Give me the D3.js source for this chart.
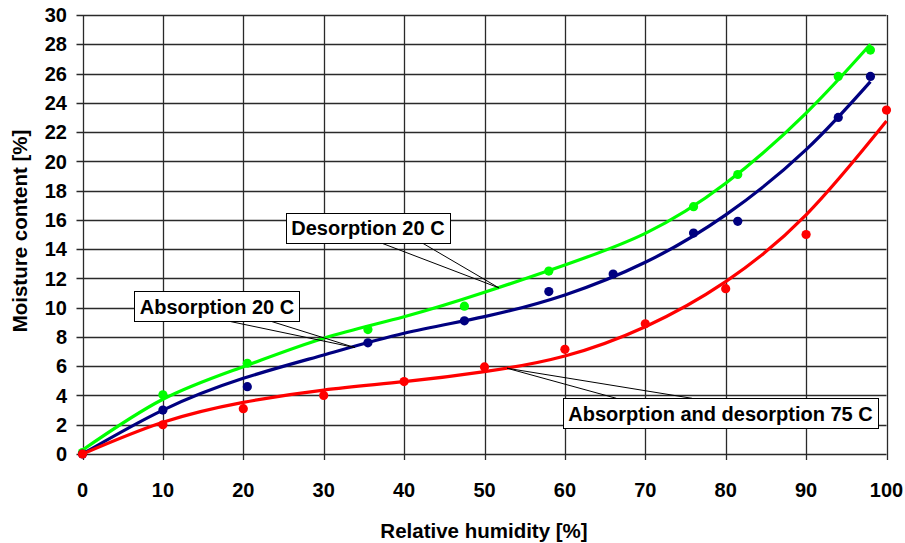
<!DOCTYPE html>
<html>
<head>
<meta charset="utf-8">
<script src="https://cdn.jsdelivr.net/npm/d3@7"></script>
<style>
  body { margin: 0; background: #fff; }
  text { font-family: "Liberation Sans", Arial, sans-serif; font-weight: bold; }
</style>
</head>
<body>
<div id="chart"></div>
<script>
// measured points
var desorp20 = [[0,0.1],[10,4.05],[20.5,6.2],[35.5,8.5],[47.5,10.1],[58,12.5],[76,16.9],[81.5,19.1],[94,25.8],[98,27.6]];
var absorp20 = [[0,0],[10,3.0],[20.5,4.6],[35.5,7.6],[47.5,9.1],[58,11.1],[66,12.3],[76,15.1],[81.5,15.9],[94,23.0],[98,25.8]];
var both75 = [[0,0],[10,2.0],[20,3.1],[30,4.0],[40,4.95],[50,5.95],[60,7.15],[70,8.9],[80,11.3],[90,15.0],[100,23.5]];

// trend lines
var desorp20Fit = [[0,0.27],[10,3.74],[20,5.97],[30,7.91],[40,9.38],[50,11.05],[60,12.92],[70,15.08],[80,18.5],[90,23.3],[98,28.0]];
var absorp20Fit = [[0,0],[10,3.0],[20,5.17],[30,6.77],[40,8.25],[50,9.39],[60,10.87],[70,13.1],[80,16.34],[90,20.8],[98,25.45]];
var both75Fit = [[0,0],[10,2.17],[20,3.53],[30,4.37],[40,4.94],[50,5.63],[60,6.7],[70,8.7],[80,11.78],[90,16.34],[100,22.75]];

var xTicks = [0,10,20,30,40,50,60,70,80,90,100];
var yTicks = [0,2,4,6,8,10,12,14,16,18,20,22,24,26,28,30];

var series = [
  {name: "Desorption 20 C", pts: desorp20, fit: desorp20Fit, color: "#00ff00"},
  {name: "Absorption 20 C", pts: absorp20, fit: absorp20Fit, color: "#000080"},
  {name: "Absorption and desorption 75 C", pts: both75, fit: both75Fit, color: "#ff0000"}
];

// callouts: box centre in data units, leader target on the curve
var callouts = [
  {text: "Desorption 20 C", cx: 35.5, cy: 15.45, tx: 51.8, ty: 11.35, side: "bottom", f1: 0.58, f2: 0.83},
  {text: "Absorption 20 C", cx: 16.73, cy: 10.08, tx: 33.9, ty: 7.27, side: "bottom", f1: 0.58, f2: 0.83},
  {text: "Absorption and desorption 75 C", cx: 79.35, cy: 2.78, tx: 52.8, ty: 5.86, side: "top", f1: 0.17, f2: 0.41}
];

var w = 905, h = 543;

var svg = d3.select("#chart")
    .append("svg")
    .attr("width", w)
    .attr("height", h);

var x = d3.scaleLinear().domain([0, 100]).range([82.5, 886.5]);
var y = d3.scaleLinear().domain([0, 30]).range([454, 15]);

// grid
svg.append("g").selectAll("line")
    .data(yTicks)
    .enter()
    .append("line")
    .attr("x1", x(0) - 6)
    .attr("x2", x(100))
    .attr("y1", function(d) { return Math.round(y(d)) + 0.5; })
    .attr("y2", function(d) { return Math.round(y(d)) + 0.5; })
    .style("stroke", "#2a2a2a")
    .style("stroke-width", 1.3);

svg.append("g").selectAll("line")
    .data(xTicks)
    .enter()
    .append("line")
    .attr("x1", function(d) { return Math.round(x(d)) + 0.5; })
    .attr("x2", function(d) { return Math.round(x(d)) + 0.5; })
    .attr("y1", y(30))
    .attr("y2", y(0) + 6)
    .style("stroke", "#2a2a2a")
    .style("stroke-width", 1.3);

// tick labels
svg.append("g").selectAll("text")
    .data(yTicks)
    .enter()
    .append("text")
    .attr("x", 67)
    .attr("y", function(d) { return y(d); })
    .attr("dy", "0.36em")
    .attr("text-anchor", "end")
    .style("font-size", "20px")
    .text(function(d) { return d; });

svg.append("g").selectAll("text")
    .data(xTicks)
    .enter()
    .append("text")
    .attr("x", function(d) { return x(d); })
    .attr("y", 497)
    .attr("text-anchor", "middle")
    .style("font-size", "20px")
    .text(function(d) { return d; });

// axis titles
svg.append("text")
    .attr("x", 484)
    .attr("y", 538)
    .attr("text-anchor", "middle")
    .style("font-size", "20.5px")
    .text("Relative humidity [%]");

svg.append("text")
    .attr("transform", "translate(27,231) rotate(-90)")
    .attr("text-anchor", "middle")
    .style("font-size", "20.5px")
    .text("Moisture content [%]");

// curves and markers
var line = d3.line()
    .x(function(d) { return x(d[0]); })
    .y(function(d) { return y(d[1]); })
    .curve(d3.curveNatural);

series.forEach(function(s) {
  svg.append("path")
      .datum(s.fit)
      .attr("d", line)
      .style("fill", "none")
      .style("stroke", s.color)
      .style("stroke-width", 3.2);

  svg.append("g").selectAll("circle")
      .data(s.pts)
      .enter()
      .append("circle")
      .attr("cx", function(d) { return x(d[0]); })
      .attr("cy", function(d) { return y(d[1]); })
      .attr("r", 4.6)
      .style("fill", s.color);
});

// callout labels
callouts.forEach(function(c) {
  var g = svg.append("g");
  var t = g.append("text")
      .attr("x", x(c.cx))
      .attr("y", y(c.cy))
      .attr("dy", "0.36em")
      .attr("text-anchor", "middle")
      .style("font-size", "20px")
      .text(c.text);
  var bb = t.node().getBBox();
  var bw = bb.width + 11, bh = 30;
  var bx = x(c.cx) - bw / 2, by = y(c.cy) - bh / 2;
  var ey = c.side == "bottom" ? by + bh : by;

  g.insert("line", "text")
      .attr("x1", bx + bw * c.f1).attr("y1", ey)
      .attr("x2", x(c.tx)).attr("y2", y(c.ty))
      .style("stroke", "#000").style("stroke-width", 1);
  g.insert("line", "text")
      .attr("x1", bx + bw * c.f2).attr("y1", ey)
      .attr("x2", x(c.tx)).attr("y2", y(c.ty))
      .style("stroke", "#000").style("stroke-width", 1);
  g.insert("rect", "text")
      .attr("x", Math.round(bx) + 0.5)
      .attr("y", Math.round(by) + 0.5)
      .attr("width", Math.round(bw))
      .attr("height", bh)
      .style("fill", "#fff")
      .style("stroke", "#000")
      .style("stroke-width", 1);
});
</script>
</body>
</html>
